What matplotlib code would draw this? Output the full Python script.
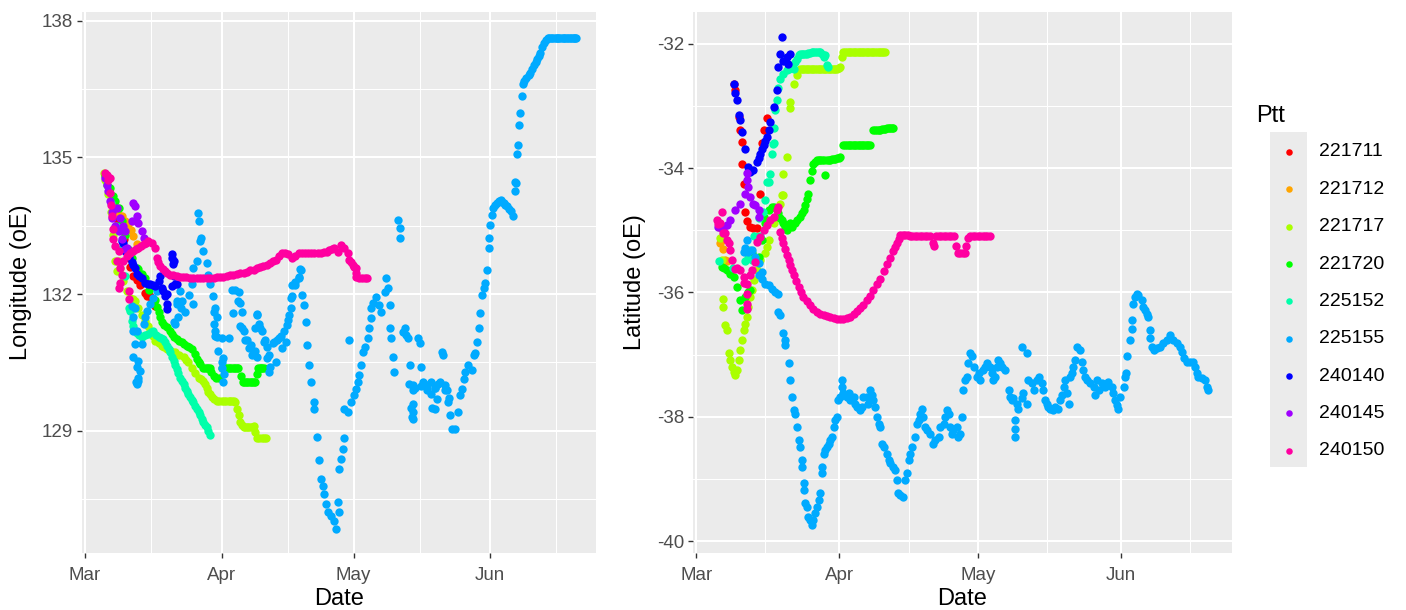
import numpy as np
import pandas as pd
import matplotlib
matplotlib.use("Agg")
import matplotlib.pyplot as plt
import matplotlib.dates as mdates
from matplotlib.patches import Rectangle

plt.rcParams['font.family'] = ['Liberation Sans', 'DejaVu Sans']
plt.rcParams['axes.unicode_minus'] = False

# --- data: (days since 1 March, value) ---
START = pd.Timestamp('2019-03-01')

ptts = ['221711', '221712', '221717', '221720', '225152',
        '225155', '240140', '240145', '240150']
colors = ['#FF0000', '#FFA500', '#AAFF00', '#00FF00', '#00FFAA',
          '#00AAFF', '#0000FF', '#A000FF', '#FF00A0']

# longitude (oE)
lon_221711 = [(7.5, 133.6), (8.1, 133.4), (8.8, 133.2), (9.5, 133.0), (9.9, 132.8),
              (10.3, 132.6), (11.0, 132.4), (11.7, 132.3), (12.5, 132.2), (13.6, 132.03),
              (14.0, 131.96), (14.8, 131.95), (15.2, 131.85), (15.9, 131.74)]
lon_221712 = [(5.0, 134.5), (5.5, 134.2), (6.5, 133.9), (7.5, 133.75), (8.3, 133.71),
              (9.0, 133.6), (9.8, 133.53), (10.4, 133.4), (11.0, 133.27), (11.7, 133.09)]
lon_221717 = [(4.2, 134.66), (4.6, 134.5), (5.2, 134.2), (5.8, 133.8), (6.3, 133.3),
              (6.8, 132.73), (7.2, 132.51), (7.6, 132.73), (8.0, 132.58), (8.7, 132.29),
              (9.5, 132.07), (10.2, 131.92), (10.8, 131.9), (11.4, 131.85), (12.1, 131.7),
              (12.9, 131.55), (13.6, 131.41), (14.2, 131.3), (14.8, 131.2), (15.4, 131.08),
              (15.9, 130.98), (16.7, 130.92), (17.4, 130.87), (18.0, 130.83), (18.6, 130.79),
              (19.5, 130.76), (20.5, 130.72), (21.4, 130.67), (22.4, 130.61), (23.0, 130.55),
              (23.5, 130.5), (24.2, 130.39), (25.0, 130.28), (25.8, 130.17), (26.4, 130.13),
              (26.9, 130.1), (27.3, 130.02), (27.7, 129.95), (28.0, 129.85), (28.4, 129.8),
              (28.8, 129.74), (29.3, 129.7), (29.9, 129.66), (30.5, 129.66), (31.1, 129.66),
              (31.6, 129.66), (32.0, 129.66), (32.6, 129.66), (33.0, 129.66), (33.4, 129.66),
              (33.8, 129.65), (34.1, 129.63), (34.5, 129.48), (34.9, 129.34), (35.3, 129.19),
              (35.7, 129.12), (36.0, 129.08), (36.4, 129.08), (36.7, 129.08), (37.1, 129.08),
              (37.5, 129.08), (37.9, 129.09), (38.3, 129.11), (38.7, 128.97), (39.1, 128.85),
              (39.6, 128.85), (40.1, 128.85), (40.6, 128.85), (41.1, 128.85)]
lon_221720 = [(4.5, 134.59), (5.0, 134.4), (5.7, 134.33), (6.3, 134.15), (6.8, 134.04),
              (7.6, 133.89), (8.3, 133.6), (9.0, 133.3), (9.8, 133.0), (10.6, 132.8),
              (11.7, 132.58), (12.1, 132.55), (12.9, 132.45), (13.6, 132.36), (14.5, 132.1),
              (15.9, 131.88), (16.3, 131.71), (16.7, 131.6), (17.0, 131.49), (17.4, 131.38),
              (18.0, 131.32), (18.6, 131.27), (19.2, 131.2), (19.7, 131.12), (20.3, 131.06),
              (20.8, 131.01), (21.4, 130.97), (22.0, 130.94), (22.5, 130.9), (23.1, 130.87),
              (23.7, 130.83), (24.2, 130.79), (25.0, 130.68), (25.4, 130.58), (25.8, 130.52),
              (26.2, 130.47), (26.9, 130.38), (27.3, 130.38), (27.6, 130.38), (28.0, 130.38),
              (28.3, 130.38), (28.7, 130.3), (29.2, 130.2), (29.8, 130.15), (30.5, 130.17),
              (31.1, 130.38), (31.5, 130.38), (31.8, 130.38), (32.2, 130.38), (32.6, 130.38),
              (33.0, 130.38), (33.4, 130.38), (33.8, 130.38), (34.1, 130.38), (34.5, 130.38),
              (34.8, 130.38), (35.4, 130.2), (35.8, 130.07), (36.2, 130.07), (36.5, 130.07),
              (36.9, 130.07), (37.2, 130.07), (37.6, 130.07), (37.9, 130.07), (38.3, 130.07),
              (38.6, 130.07), (39.0, 130.25), (39.4, 130.37), (39.7, 130.37), (40.0, 130.37),
              (40.3, 130.37), (40.6, 130.37)]
lon_225152 = [(5.0, 134.5), (6.0, 134.0), (7.0, 133.5), (8.0, 133.0), (9.0, 132.4),
              (9.9, 131.69), (10.2, 131.63), (10.6, 131.41), (11.0, 131.3), (11.4, 131.2),
              (11.8, 131.15), (12.2, 131.1), (12.9, 131.05), (13.6, 131.1), (14.4, 131.12),
              (15.0, 131.16), (15.5, 131.2), (16.1, 131.1), (16.7, 131.05), (17.3, 131.03),
              (17.8, 131.01), (18.2, 130.94), (18.6, 130.87), (19.0, 130.8), (19.3, 130.72),
              (19.7, 130.63), (20.1, 130.54), (20.5, 130.45), (20.8, 130.36), (21.2, 130.27),
              (21.6, 130.17), (22.0, 130.1), (22.4, 130.03), (22.8, 129.95), (23.1, 129.88),
              (23.5, 129.81), (23.9, 129.74), (24.3, 129.68), (24.6, 129.63), (25.0, 129.55),
              (25.4, 129.48), (25.8, 129.41), (26.2, 129.34), (26.6, 129.26), (26.9, 129.19),
              (27.3, 129.13), (27.7, 129.08), (28.0, 128.99), (28.4, 128.9)]
lon_225155 = [(10.6, 131.74), (11.4, 131.7), (11.0, 131.49), (11.7, 131.19), (11.4, 130.9),
              (11.0, 130.61), (12.1, 130.54), (12.5, 130.32), (12.1, 130.1), (11.7, 130.03),
              (11.0, 131.18), (11.7, 130.41), (12.1, 130.15), (11.5, 130.07),
              (12.9, 130.9), (13.3, 131.34), (13.6, 131.49), (14.0, 131.63), (14.8, 131.78),
              (15.5, 131.92), (16.3, 132.07), (20.5, 131.34), (21.2, 131.49), (20.8, 131.78),
              (20.1, 131.39), (21.0, 131.86), (21.9, 131.69), (22.8, 131.6), (23.6, 131.99),
              (24.5, 131.78), (21.6, 132.07), (22.0, 131.85), (24.2, 132.22), (24.6, 132.58),
              (25.4, 132.73), (25.7, 133.79), (25.8, 133.6), (26.1, 133.16), (26.3, 133.23),
              (26.9, 132.94), (27.7, 132.69), (28.0, 132.43), (28.4, 132.22), (29.0, 131.95),
              (29.2, 131.6), (29.4, 131.35), (29.6, 131.09), (29.5, 131.7), (29.9, 131.49),
              (29.5, 131.19), (29.9, 131.05), (30.3, 130.75), (31.0, 130.5), (31.6, 130.24),
              (31.1, 131.03), (31.4, 130.59), (31.1, 130.37), (31.4, 130.07),
              (32.6, 131.03), (33.4, 132.08), (33.7, 131.58), (34.1, 132.09), (34.7, 131.86),
              (34.9, 132.05), (35.3, 131.8), (35.6, 131.6), (35.2, 131.31), (36.0, 131.18),
              (36.9, 131.0), (37.8, 130.88), (38.7, 130.75), (39.1, 130.62),
              (35.6, 131.25), (36.4, 130.99), (37.2, 130.81), (37.9, 130.66), (38.7, 131.25),
              (39.0, 131.56), (39.6, 131.35), (40.2, 131.18), (40.9, 131.0), (41.4, 130.84),
              (41.8, 130.67), (42.7, 130.92), (43.6, 131.0), (44.5, 131.09), (45.3, 131.18),
              (46.2, 131.44), (46.7, 131.69), (47.1, 131.95), (47.6, 132.2), (48.5, 132.38),
              (48.9, 132.55),
              (39.1, 131.54), (39.8, 131.25), (40.6, 130.95), (41.4, 130.59), (42.9, 130.95),
              (44.0, 131.03), (44.8, 130.81), (45.6, 130.95), (43.3, 130.51), (42.1, 130.4),
              (41.7, 130.29), (45.9, 131.32), (46.3, 131.54), (46.7, 131.91), (47.1, 132.2),
              (47.8, 132.27), (48.6, 132.35), (49.0, 132.53), (49.4, 131.98), (49.7, 131.76),
              (50.1, 131.39), (50.5, 130.88), (50.9, 130.44), (51.3, 130.07), (52.0, 129.63),
              (52.0, 129.48), (52.8, 128.86), (53.2, 128.35), (53.6, 127.94), (54.0, 127.8),
              (54.3, 127.61), (54.7, 127.39), (55.1, 127.21), (55.8, 127.13), (56.6, 127.03),
              (57.0, 126.84), (57.4, 127.43), (57.8, 127.21), (57.8, 128.16), (58.1, 128.38),
              (58.5, 128.6), (58.8, 128.84), (58.9, 129.48), (59.7, 129.41), (60.4, 129.63),
              (61.2, 129.78), (61.6, 129.92), (62.0, 130.07), (62.3, 130.22), (62.7, 130.44),
              (63.1, 130.73), (63.5, 130.84), (64.2, 131.03), (64.6, 131.25), (65.0, 131.47),
              (65.0, 131.69), (65.4, 131.8), (66.1, 131.94), (66.9, 131.76), (67.3, 131.61),
              (68.1, 132.05), (68.4, 132.35), (68.8, 132.13), (69.2, 131.76), (60.0, 130.99),
              (71.1, 133.63), (71.5, 133.45), (71.6, 133.23), (69.2, 131.25), (69.6, 131.03),
              (70.0, 130.62), (70.3, 130.29), (72.3, 131.17), (72.6, 131.25), (73.0, 131.1),
              (73.4, 131.03), (73.8, 130.44), (74.5, 130.0), (74.9, 129.93), (74.5, 129.59),
              (74.5, 129.41), (74.5, 129.26), (73.7, 130.03), (74.6, 129.9), (74.1, 129.51),
              (74.4, 129.3), (76.4, 129.98), (77.7, 129.9), (78.6, 129.81), (78.8, 129.51),
              (79.5, 129.94), (80.3, 130.03), (81.7, 129.9), (82.6, 129.73),
              (75.7, 131.03), (76.1, 130.92), (76.4, 130.4),
              (76.8, 130.07), (77.6, 130.0), (78.7, 130.07), (79.5, 129.93), (79.9, 129.7),
              (79.5, 129.48), (80.6, 130.07), (81.0, 130.73), (81.4, 130.66), (81.8, 130.0),
              (82.2, 129.89), (82.5, 129.63), (82.9, 129.34), (83.3, 129.04), (84.1, 129.04),
              (84.8, 129.41), (85.2, 129.78), (85.6, 129.92), (86.0, 130.14), (86.4, 130.29),
              (87.1, 130.44), (87.9, 130.33), (88.3, 130.66), (88.6, 130.7), (89.0, 130.95),
              (89.4, 131.25), (89.8, 131.58), (90.2, 131.98), (90.6, 132.13), (90.9, 132.24),
              (91.3, 132.53), (91.7, 133.01), (91.7, 133.23), (92.1, 133.52), (92.5, 133.74),
              (92.8, 133.89), (93.2, 133.95), (93.6, 134.0), (94.0, 134.04), (94.4, 134.07),
              (94.8, 134.03), (95.1, 134.0), (95.5, 133.96), (95.9, 133.93), (96.3, 133.87),
              (96.7, 133.82), (97.2, 133.71), (97.7, 134.26), (98.0, 134.44), (97.6, 134.47),
              (98.2, 135.07), (98.3, 135.28), (98.5, 135.71), (98.9, 135.97), (99.2, 136.35),
              (99.4, 136.61), (99.8, 136.68), (100.3, 136.74), (100.8, 136.8), (101.2, 136.86),
              (101.6, 136.95), (102.0, 137.03), (102.4, 137.1), (102.7, 137.16), (103.1, 137.22),
              (103.4, 137.29), (103.8, 137.42), (104.3, 137.52), (104.7, 137.58), (105.1, 137.62),
              (105.5, 137.62), (105.8, 137.62), (106.2, 137.62), (106.5, 137.62), (106.9, 137.62),
              (107.2, 137.62), (107.5, 137.62), (107.8, 137.62), (108.2, 137.62), (108.5, 137.62),
              (108.8, 137.62), (109.1, 137.62), (109.5, 137.62), (109.8, 137.62), (110.1, 137.62),
              (110.5, 137.62), (110.8, 137.62), (111.0, 137.62), (111.3, 137.62), (111.6, 137.62)]
lon_240140 = [(8.3, 133.16), (8.7, 133.13), (9.1, 132.95), (9.5, 132.94), (10.0, 132.82),
              (10.6, 132.7), (11.0, 132.64), (11.4, 132.58), (11.7, 132.44), (12.3, 132.4),
              (12.9, 132.36), (13.6, 132.25), (14.2, 132.23), (14.8, 132.22), (15.4, 132.2),
              (15.9, 132.18), (16.7, 132.29), (17.0, 132.4), (17.4, 132.14), (17.8, 132.07),
              (18.2, 131.96), (18.6, 132.0), (18.6, 131.78), (18.6, 131.67), (19.7, 132.8),
              (19.9, 132.65), (20.1, 132.4), (20.5, 132.22), (19.7, 132.18), (20.8, 132.22),
              (20.1, 132.73), (19.7, 132.87)]
lon_240145 = [(4.5, 134.55), (4.9, 134.4), (5.3, 134.26), (5.7, 134.04), (6.1, 133.8),
              (6.1, 133.67), (6.8, 133.5), (7.6, 133.38), (8.3, 133.2), (9.1, 132.98),
              (9.5, 133.02), (7.2, 133.89), (8.0, 133.67), (8.6, 133.5), (9.1, 133.38),
              (10.6, 133.6), (11.0, 134.0), (11.4, 133.93), (11.7, 133.71), (12.1, 133.57),
              (12.9, 133.38), (13.3, 133.24)]
lon_240150 = [(4.5, 134.66), (4.9, 134.62), (5.3, 134.5), (5.7, 134.55), (5.7, 134.22),
              (5.9, 133.95), (6.1, 133.71), (6.4, 133.42), (6.4, 133.2), (6.8, 133.05),
              (7.6, 132.94), (7.2, 132.73), (8.0, 132.58), (8.3, 132.43), (8.0, 132.25),
              (7.6, 132.14), (9.9, 132.07), (9.9, 131.89), (8.7, 132.73), (9.5, 132.84),
              (10.2, 132.91), (11.0, 132.94), (11.5, 132.98), (12.1, 133.02), (12.7, 133.05),
              (13.3, 133.09), (13.9, 133.12), (14.4, 133.16), (15.2, 133.13), (15.9, 133.02),
              (16.3, 132.8), (16.6, 132.7), (17.0, 132.62), (17.6, 132.56), (18.2, 132.51),
              (18.7, 132.47), (19.3, 132.43), (20.0, 132.41), (20.8, 132.4), (21.5, 132.38),
              (22.3, 132.38), (23.0, 132.37), (23.8, 132.36), (24.6, 132.36), (25.4, 132.36),
              (26.1, 132.36), (26.9, 132.36), (27.7, 132.36), (28.4, 132.36), (29.2, 132.36),
              (29.9, 132.37), (30.7, 132.38), (31.4, 132.38), (32.2, 132.4), (33.0, 132.41),
              (33.7, 132.42), (34.5, 132.44), (35.3, 132.46), (36.0, 132.47), (36.8, 132.49),
              (37.5, 132.52), (38.3, 132.54), (39.1, 132.57), (39.8, 132.6), (40.5, 132.62),
              (41.4, 132.64), (42.1, 132.68), (42.8, 132.73), (43.3, 132.75), (44.0, 132.84),
              (44.8, 132.9), (45.5, 132.9), (46.2, 132.87), (47.1, 132.8), (47.8, 132.84),
              (48.5, 132.9), (49.2, 132.9), (50.0, 132.9), (50.7, 132.9), (51.4, 132.9),
              (52.1, 132.9), (52.9, 132.9), (53.6, 132.9), (54.3, 132.92), (55.0, 132.93),
              (55.5, 132.97), (56.1, 132.99), (56.6, 133.01), (57.4, 132.93), (58.1, 133.07),
              (58.9, 133.01), (59.7, 132.9), (60.0, 132.75), (60.4, 132.7), (60.8, 132.64),
              (61.2, 132.6), (61.6, 132.57), (61.6, 132.47), (61.6, 132.38), (62.3, 132.35),
              (62.9, 132.35), (63.5, 132.35), (64.1, 132.36)]

# latitude
lat_221711 = [(8.1, -32.64), (8.4, -32.75), (9.2, -33.18), (9.5, -33.39), (9.9, -33.58),
              (9.9, -33.93), (10.3, -34.25), (10.6, -34.7), (11.0, -34.85), (11.7, -34.94),
              (12.4, -34.97), (13.1, -34.97), (13.9, -34.41), (14.2, -33.6), (14.6, -33.39),
              (15.3, -33.2)]
lat_221712 = [(5.0, -34.95), (5.2, -35.21), (5.6, -35.16), (5.9, -35.3), (6.3, -35.48),
              (6.6, -35.5)]
lat_221717 = [(5.2, -35.13), (5.6, -35.48), (5.9, -36.1), (5.9, -36.23), (6.3, -36.53),
              (6.6, -36.6), (7.0, -36.98), (7.4, -37.09), (7.8, -37.2), (8.1, -37.28),
              (8.4, -37.33), (8.8, -37.25), (9.2, -37.09), (9.5, -36.93), (9.9, -36.77),
              (10.3, -36.61), (10.6, -36.5), (11.0, -36.39), (11.3, -36.23), (11.7, -36.07),
              (12.1, -35.96), (12.6, -35.8), (13.1, -35.64), (13.9, -35.48), (15.0, -35.37),
              (15.3, -35.27), (15.7, -35.16), (16.8, -34.89), (18.2, -34.57), (18.6, -34.43),
              (18.9, -34.44), (18.9, -34.09), (19.6, -33.82), (20.4, -33.04), (20.4, -32.93),
              (21.1, -32.64), (21.8, -32.51), (22.5, -32.4), (22.9, -32.4), (23.2, -32.4),
              (23.6, -32.4), (24.0, -32.4), (24.3, -32.4), (24.7, -32.4), (25.1, -32.4),
              (25.4, -32.4), (25.8, -32.4), (26.2, -32.4), (26.5, -32.4), (26.9, -32.4),
              (27.3, -32.4), (27.6, -32.4), (28.0, -32.4), (28.3, -32.4), (28.7, -32.4),
              (29.0, -32.4), (29.4, -32.4), (29.8, -32.4), (30.1, -32.4), (30.5, -32.4),
              (30.9, -32.39), (31.2, -32.37), (31.6, -32.21), (31.9, -32.14), (32.3, -32.14),
              (32.6, -32.14), (33.0, -32.14), (33.4, -32.14), (33.7, -32.14), (34.1, -32.14),
              (34.5, -32.14), (34.8, -32.14), (35.2, -32.14), (35.5, -32.14), (35.9, -32.14),
              (36.2, -32.14), (36.6, -32.14), (37.0, -32.14), (37.3, -32.14), (37.7, -32.14),
              (38.0, -32.14), (38.4, -32.14), (38.8, -32.14), (39.1, -32.14), (39.5, -32.14),
              (39.9, -32.14), (40.2, -32.14), (40.5, -32.14), (41.0, -32.14)]
lat_221720 = [(5.6, -35.59), (6.1, -35.6), (6.6, -35.64), (7.3, -35.7), (8.1, -35.75),
              (8.8, -35.91), (9.5, -36.12), (9.9, -36.28), (10.6, -36.07), (11.2, -36.0),
              (11.7, -35.96), (12.0, -35.37), (13.1, -35.11), (13.5, -35.43), (14.2, -35.16),
              (14.6, -34.78), (15.0, -34.89), (15.7, -34.68), (16.4, -34.62), (16.8, -34.62),
              (17.5, -34.65), (17.8, -34.73), (18.2, -34.8), (18.6, -34.84), (18.9, -34.89),
              (19.3, -34.94), (19.6, -35.0), (20.0, -34.95), (20.4, -34.89), (20.7, -34.94),
              (21.3, -34.88), (21.8, -34.84), (22.4, -34.78), (22.9, -34.73), (23.3, -34.68),
              (23.6, -34.6), (24.0, -34.5), (24.3, -34.41), (24.7, -34.19), (25.0, -34.05),
              (25.4, -33.93), (25.8, -33.9), (26.1, -33.87), (26.5, -33.87), (26.8, -33.87),
              (27.2, -33.87), (27.6, -33.87), (27.9, -34.11), (28.3, -33.87), (28.7, -33.87),
              (29.0, -33.87), (29.4, -33.86), (29.8, -33.85), (30.1, -33.85), (30.5, -33.84),
              (30.9, -33.83), (31.2, -33.82), (31.9, -33.63), (32.3, -33.63), (32.6, -33.63),
              (33.0, -33.63), (33.4, -33.63), (33.7, -33.63), (34.1, -33.63), (34.5, -33.63),
              (34.8, -33.63), (35.2, -33.63), (35.5, -33.63), (35.9, -33.63), (36.2, -33.63),
              (36.6, -33.63), (37.0, -33.63), (37.3, -33.63), (37.7, -33.63), (38.4, -33.39),
              (38.8, -33.38), (39.1, -33.38), (39.5, -33.38), (39.9, -33.38), (40.2, -33.37),
              (40.6, -33.37), (41.0, -33.37), (41.3, -33.36), (41.7, -33.36), (42.0, -33.36),
              (42.4, -33.36), (42.7, -33.36)]
lat_225152 = [(5.0, -35.5), (8.0, -35.6), (10.5, -35.5), (11.3, -35.45), (11.7, -35.32),
              (12.1, -35.48), (12.5, -35.1), (13.5, -34.8), (13.9, -35.1), (14.5, -34.7),
              (14.9, -34.52), (15.3, -34.22), (15.7, -34.22), (16.0, -34.09), (16.4, -33.77),
              (16.6, -33.61), (16.8, -33.6), (16.9, -33.35), (17.1, -33.07), (17.5, -32.91),
              (17.8, -32.72), (18.2, -32.56), (18.9, -32.48), (19.6, -32.43), (20.2, -32.4),
              (20.7, -32.37), (21.1, -32.4), (21.5, -32.3), (21.8, -32.24), (22.2, -32.18),
              (22.5, -32.16), (22.9, -32.16), (23.2, -32.16), (23.6, -32.16), (24.0, -32.16),
              (24.3, -32.15), (24.7, -32.15), (25.1, -32.14), (25.4, -32.14), (25.8, -32.14),
              (26.2, -32.14), (26.5, -32.14), (26.9, -32.13), (27.3, -32.16), (27.6, -32.21),
              (28.0, -32.18), (28.3, -32.35), (28.6, -32.37)]
lat_225155 = [(10.3, -35.35), (10.6, -35.29), (11.0, -35.16), (11.3, -35.35), (12.0, -35.32),
              (12.8, -35.43), (13.5, -35.53), (14.2, -35.67), (13.5, -35.72), (14.2, -35.78),
              (15.0, -35.86), (15.7, -35.88), (16.4, -35.94), (17.1, -35.99), (17.8, -36.02),
              (17.8, -36.31), (18.2, -36.36), (18.9, -36.66), (19.3, -36.77), (19.3, -36.85),
              (20.0, -37.14), (20.4, -37.41), (20.7, -37.68), (21.1, -37.89), (21.4, -37.95),
              (21.8, -38.16), (22.2, -38.37), (22.5, -38.48), (22.9, -38.7), (22.9, -38.8),
              (23.3, -39.07), (23.3, -39.18), (23.6, -39.39), (24.0, -39.45), (24.3, -39.61),
              (24.7, -39.66), (25.1, -39.74), (25.4, -39.66), (25.8, -39.55), (26.1, -39.45),
              (26.5, -39.34), (26.9, -39.23), (27.2, -38.91), (27.2, -38.8), (27.6, -38.59),
              (27.9, -38.54), (28.3, -38.48), (28.7, -38.43), (29.0, -38.37), (29.4, -38.32),
              (29.8, -38.16), (30.1, -38.05), (30.5, -38.0), (30.8, -37.73), (31.6, -37.41),
              (31.6, -37.52), (31.2, -37.68), (31.9, -37.62), (32.6, -37.68), (33.0, -37.62),
              (33.4, -37.73), (34.1, -37.68), (34.4, -37.79), (34.8, -37.84), (35.5, -37.89),
              (35.9, -37.84), (36.2, -37.68), (37.0, -37.68), (37.3, -37.79), (37.7, -37.57),
              (38.1, -37.65), (38.4, -37.73), (38.8, -37.84), (39.1, -38.0), (39.5, -38.11),
              (39.9, -38.16), (40.2, -38.43), (40.6, -38.48), (41.3, -38.59), (41.7, -38.7),
              (42.0, -38.75), (42.7, -38.8), (43.1, -38.86), (43.5, -39.02), (43.8, -39.23),
              (44.2, -39.26), (44.9, -39.29), (45.3, -39.02), (45.6, -38.91), (46.0, -38.7),
              (46.4, -38.59), (46.7, -38.48), (47.4, -38.32), (47.8, -38.11), (48.2, -38.05),
              (48.5, -37.95), (48.9, -37.87), (49.2, -38.0), (49.6, -38.16), (50.0, -38.21),
              (50.7, -38.27), (51.4, -38.43), (51.8, -38.37), (52.5, -38.32), (52.9, -38.16),
              (53.6, -38.11), (53.9, -38.0), (54.3, -37.89), (54.7, -37.95), (55.0, -38.16),
              (55.4, -38.27), (55.7, -38.21), (56.5, -38.16), (56.8, -38.32), (57.2, -38.27),
              (57.5, -38.0), (57.9, -37.57), (58.3, -37.41), (58.6, -37.36), (59.0, -37.14),
              (59.4, -36.98), (59.7, -37.03), (60.1, -37.2), (60.8, -37.36), (61.2, -37.3),
              (61.5, -37.41), (62.2, -37.25), (62.6, -37.2), (63.0, -37.14), (63.7, -37.2),
              (64.0, -37.3), (64.4, -37.41), (64.8, -37.36), (65.1, -37.2), (65.5, -37.09),
              (65.9, -37.14), (66.2, -37.2), (66.9, -37.25), (67.7, -37.57), (68.0, -37.68),
              (68.4, -37.73), (68.7, -37.7), (69.1, -38.05), (69.1, -38.19), (69.1, -38.32),
              (69.5, -37.79), (69.8, -37.87), (70.5, -36.87), (71.6, -36.98), (70.5, -37.7),
              (70.9, -37.62), (71.6, -37.79), (72.0, -37.41), (72.7, -37.46), (73.1, -37.57),
              (73.8, -37.41), (74.2, -37.36), (74.9, -37.46), (75.2, -37.57), (75.6, -37.73),
              (76.0, -37.79), (76.3, -37.84), (76.7, -37.87), (77.4, -37.89), (77.8, -37.84),
              (78.5, -37.87), (78.9, -37.73), (79.2, -37.65), (79.6, -37.52), (79.9, -37.41),
              (80.3, -37.62), (80.7, -37.79), (81.0, -37.36), (81.4, -37.3), (81.7, -37.2),
              (82.1, -37.09), (82.5, -36.87), (83.2, -36.93), (83.5, -37.12), (83.9, -37.25),
              (84.3, -37.36), (84.6, -37.41), (85.3, -37.46), (86.1, -37.52), (86.4, -37.65),
              (86.8, -37.41), (87.2, -37.57), (87.9, -37.46), (88.6, -37.52), (89.3, -37.44),
              (90.0, -37.52), (90.4, -37.62), (90.8, -37.73), (91.1, -37.81), (91.5, -37.87),
              (91.8, -37.68), (92.6, -37.52), (92.9, -37.36), (93.1, -37.3), (93.3, -37.03),
              (93.9, -36.77), (94.4, -36.58), (94.4, -36.45), (94.7, -36.18), (95.1, -36.07),
              (95.5, -36.02), (95.8, -36.04), (96.5, -36.12), (96.9, -36.23), (97.3, -36.28),
              (97.6, -36.34), (98.0, -36.39), (98.3, -36.61), (98.3, -36.74), (98.7, -36.87),
              (99.1, -36.93), (99.8, -36.9), (100.5, -36.87), (101.2, -36.82), (102.0, -36.77),
              (102.7, -36.69), (103.4, -36.77), (104.1, -36.82), (104.8, -36.87), (105.2, -36.95),
              (105.6, -37.06), (106.3, -37.12), (107.0, -37.12), (107.7, -37.12), (108.1, -37.2),
              (108.5, -37.3), (108.8, -37.36), (109.5, -37.38), (110.3, -37.41), (110.6, -37.52),
              (111.0, -37.57)]
lat_240140 = [(8.1, -32.64), (8.4, -32.8), (8.8, -32.91), (9.2, -33.15), (9.5, -33.23),
              (9.9, -33.42), (10.6, -33.69), (11.3, -33.98), (11.7, -34.06), (12.4, -34.03),
              (13.1, -33.9), (13.5, -33.83), (13.9, -33.77), (14.2, -33.7), (14.6, -33.63),
              (15.0, -33.57), (15.3, -33.5), (15.7, -33.39), (16.0, -33.26), (16.8, -33.02),
              (17.5, -32.75), (17.8, -32.37), (18.2, -32.16), (18.6, -31.89), (18.9, -32.27),
              (19.6, -32.21), (19.9, -32.32), (20.4, -32.16)]
lat_240145 = [(4.8, -34.94), (5.2, -34.94), (5.9, -35.0), (6.6, -34.92), (7.4, -34.84),
              (8.4, -34.68), (9.5, -34.57), (10.6, -34.41), (11.0, -34.19), (11.0, -34.08),
              (11.3, -34.3), (11.7, -34.46), (12.4, -34.57), (12.8, -34.6), (13.5, -34.68),
              (13.5, -34.79)]
lat_240150 = [(4.5, -34.84), (4.8, -34.9), (5.2, -34.89), (5.6, -34.7), (5.9, -35.05),
              (6.3, -35.05), (6.6, -35.16), (7.0, -35.2), (7.4, -35.32), (7.7, -35.48),
              (8.4, -35.62), (8.8, -35.61), (9.5, -35.64), (10.3, -35.75), (10.3, -35.85),
              (11.0, -35.86), (11.0, -36.02), (11.0, -36.18), (11.0, -36.26), (11.7, -35.72),
              (12.1, -35.64), (12.8, -35.51), (13.1, -35.19), (13.9, -35.11), (14.6, -35.0),
              (15.3, -34.92), (16.0, -34.84), (16.8, -34.78), (17.5, -34.68), (17.8, -34.62),
              (18.2, -35.02), (18.6, -35.12), (18.9, -35.21), (19.3, -35.3), (19.6, -35.4),
              (20.0, -35.48), (20.4, -35.56), (20.8, -35.64), (21.1, -35.72), (21.6, -35.82),
              (22.2, -35.91), (22.7, -35.99), (23.2, -36.07), (23.9, -36.14), (24.7, -36.2),
              (25.4, -36.26), (26.1, -36.31), (26.9, -36.34), (27.6, -36.36), (28.3, -36.38),
              (29.0, -36.39), (29.8, -36.41), (30.5, -36.42), (31.2, -36.42), (31.9, -36.42),
              (32.6, -36.41), (33.4, -36.4), (34.1, -36.34), (34.8, -36.3), (35.5, -36.25),
              (36.2, -36.2), (36.9, -36.12), (37.7, -36.05), (38.4, -35.96), (39.1, -35.87),
              (39.9, -35.78), (40.6, -35.65), (41.3, -35.55), (42.0, -35.44), (42.7, -35.34),
              (43.1, -35.27), (43.5, -35.21), (43.9, -35.14), (44.2, -35.08), (44.7, -35.08),
              (45.2, -35.08), (45.8, -35.08), (46.3, -35.09), (46.8, -35.1), (47.4, -35.1),
              (47.9, -35.1), (48.4, -35.1), (49.0, -35.1), (49.5, -35.1), (50.0, -35.1),
              (50.6, -35.1), (51.2, -35.2), (51.6, -35.25), (52.0, -35.1), (52.6, -35.1),
              (53.1, -35.1), (53.6, -35.1), (54.2, -35.1), (54.7, -35.1), (55.2, -35.1),
              (55.8, -35.1), (56.3, -35.25), (56.7, -35.37), (57.2, -35.37), (57.7, -35.37),
              (58.2, -35.37), (58.5, -35.25), (58.9, -35.12), (59.4, -35.1), (59.9, -35.1),
              (60.5, -35.1), (61.0, -35.1), (61.6, -35.1), (62.1, -35.1), (62.6, -35.1),
              (63.1, -35.1), (63.6, -35.1)]

lon_data = [lon_221711, lon_221712, lon_221717, lon_221720, lon_225152,
            lon_225155, lon_240140, lon_240145, lon_240150]
lat_data = [lat_221711, lat_221712, lat_221717, lat_221720, lat_225152,
            lat_225155, lat_240140, lat_240145, lat_240150]


def to_frame(points):
    df = pd.DataFrame(points, columns=['day', 'value'])
    df['Date'] = START + pd.to_timedelta(df['day'], unit='D')
    return df


# --- figure ---
W, H = 1406, 610
fig = plt.figure(figsize=(W / 100, H / 100), dpi=100)

ax1 = fig.add_axes([82 / W, 1 - 553 / H, 514 / W, 541 / H])
ax2 = fig.add_axes([693 / W, 1 - 553 / H, 539 / W, 541 / H])

xmin = START + pd.Timedelta(days=-0.7)
xmax = START + pd.Timedelta(days=116.1)

for ax, data, ylim, yticks, yminor, ylabel, ylx in [
        (ax1, lon_data, (126.32, 138.19), [129, 132, 135, 138],
         [127.5, 130.5, 133.5, 136.5], 'Longitude (oE)', -0.118),
        (ax2, lat_data, (-40.19, -31.49), [-40, -38, -36, -34, -32],
         [-39, -37, -35, -33], 'Latitude (oE)', -0.108)]:
    ax.set_facecolor('#EBEBEB')
    for s in ax.spines.values():
        s.set_visible(False)
    for pts, col in zip(data, colors):
        df = to_frame(pts)
        ax.scatter(df['Date'], df['value'], s=36, c=col, linewidths=0, zorder=3)
    ax.set_xlim(xmin, xmax)
    ax.set_ylim(*ylim)
    ax.set_yticks(yticks)
    ax.set_yticks(yminor, minor=True)
    ax.xaxis.set_major_locator(mdates.MonthLocator())
    ax.xaxis.set_minor_locator(mdates.MonthLocator(bymonthday=16))
    ax.xaxis.set_major_formatter(mdates.DateFormatter('%b'))
    ax.grid(which='major', color='white', lw=1.5, zorder=0)
    ax.grid(which='minor', color='white', lw=0.75, zorder=0)
    ax.set_axisbelow(True)
    ax.tick_params(which='major', length=3.5, width=1, color='#333333',
                   labelsize=13.5, labelcolor='#4D4D4D', pad=3)
    ax.tick_params(axis='x', which='major', pad=6.5)
    ax.tick_params(which='minor', length=0)
    ax.set_xlabel('Date', fontsize=17)
    ax.xaxis.set_label_coords(0.5, -0.085)
    ax.xaxis.label.set_va('center')
    ax.set_ylabel(ylabel, fontsize=17)
    ax.yaxis.set_label_coords(ylx, 0.5)
    ax.yaxis.label.set_va('center')

# --- legend drawn by hand (ggplot-style key column) ---
key_ax = fig.add_axes([0, 0, 1, 1], facecolor='none')
key_ax.set_xlim(0, W)
key_ax.set_ylim(H, 0)
key_ax.axis('off')
key_ax.add_patch(Rectangle((1270, 132), 37, 335, facecolor='#EBEBEB',
                           edgecolor='none', zorder=0))
key_ax.text(1256, 116, 'Ptt', fontsize=17, ha='left', va='center')
for i, (p, col) in enumerate(zip(ptts, colors)):
    yk = 152 + i * 37.35
    key_ax.scatter([1289], [yk], s=22, c=col, linewidths=0, zorder=2)
    key_ax.text(1319, yk, p, fontsize=14, va='center', ha='left', color='black')

fig.savefig('out.png', dpi=100)
